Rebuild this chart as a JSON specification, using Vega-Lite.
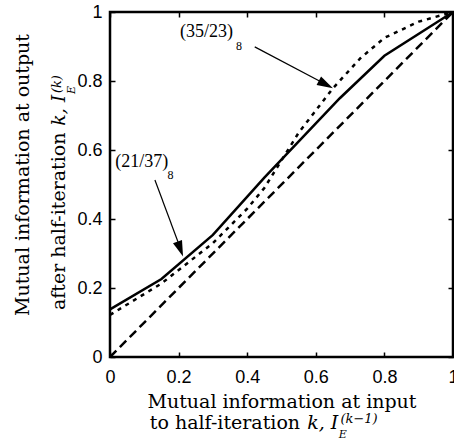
{
  "$schema": "https://vega.github.io/schema/vega-lite/v6.json",
  "width": 343,
  "height": 345,
  "autosize": {"type": "none"},
  "padding": {"left": 110, "top": 12, "right": 1, "bottom": 87},
  "background": "white",
  "data": {"values": [{}]},
  "config": {
    "view": {"stroke": "black", "strokeWidth": 2.5},
    "axis": {"grid": false, "domain": false, "tickColor": "black", "tickWidth": 1.5, "tickSize": -5, "labelColor": "black", "labelFont": "Liberation Sans", "labelFontSize": 18, "labelFlush": false, "labelOverlap": false, "titleColor": "black", "titleFont": "DejaVu Serif", "titleFontSize": 19, "titleFontWeight": "normal"}
  },
  "datasets": {
    "curves": [
      {"x": 0, "y": 0.138, "code": "(21/37)8"},
      {"x": 0.15, "y": 0.226, "code": "(21/37)8"},
      {"x": 0.3, "y": 0.354, "code": "(21/37)8"},
      {"x": 0.45, "y": 0.52, "code": "(21/37)8"},
      {"x": 0.67, "y": 0.75, "code": "(21/37)8"},
      {"x": 0.8, "y": 0.873, "code": "(21/37)8"},
      {"x": 1, "y": 1, "code": "(21/37)8"},
      {"x": 0, "y": 0.122, "code": "(35/23)8"},
      {"x": 0.15, "y": 0.213, "code": "(35/23)8"},
      {"x": 0.3, "y": 0.33, "code": "(35/23)8"},
      {"x": 0.4, "y": 0.43, "code": "(35/23)8"},
      {"x": 0.45, "y": 0.49, "code": "(35/23)8"},
      {"x": 0.55, "y": 0.65, "code": "(35/23)8"},
      {"x": 0.65, "y": 0.779, "code": "(35/23)8"},
      {"x": 0.73, "y": 0.866, "code": "(35/23)8"},
      {"x": 0.8, "y": 0.925, "code": "(35/23)8"},
      {"x": 0.9, "y": 0.972, "code": "(35/23)8"},
      {"x": 1, "y": 1, "code": "(35/23)8"},
      {"x": 0, "y": 0, "code": "identity"},
      {"x": 1, "y": 1, "code": "identity"}
    ]
  },
  "resolve": {"axis": {"x": "independent", "y": "independent"}},
  "layer": [
    {
      "data": {"name": "curves"},
      "transform": [{"filter": "datum.code === 'identity'"}],
      "mark": {"type": "line", "color": "black", "strokeWidth": 2.5, "strokeDash": [9, 5], "strokeCap": "butt"},
      "encoding": {
        "x": {"field": "x", "type": "quantitative", "scale": {"domain": [0, 1], "nice": false, "zero": false}, "axis": {"orient": "top", "values": [0, 0.2, 0.4, 0.6, 0.8, 1], "labels": false, "title": null}},
        "y": {"field": "y", "type": "quantitative", "scale": {"domain": [0, 1], "nice": false, "zero": false}, "axis": {"orient": "right", "values": [0, 0.2, 0.4, 0.6, 0.8, 1], "labels": false, "title": null}}
      }
    },
    {
      "data": {"name": "curves"},
      "transform": [{"filter": "datum.code === '(35/23)8'"}],
      "mark": {"type": "line", "color": "black", "strokeWidth": 2.5, "strokeDash": [4, 5], "strokeCap": "butt"},
      "encoding": {
        "x": {"field": "x", "type": "quantitative", "axis": null},
        "y": {"field": "y", "type": "quantitative", "axis": null}
      }
    },
    {
      "data": {"name": "curves"},
      "transform": [{"filter": "datum.code === '(21/37)8'"}],
      "mark": {"type": "line", "color": "black", "strokeWidth": 2.5},
      "encoding": {
        "x": {"field": "x", "type": "quantitative", "axis": {"orient": "bottom", "values": [0, 0.2, 0.4, 0.6, 0.8, 1], "format": "~g", "labelPadding": 25, "labelBaseline": "middle", "title": "Mutual information at input", "titleY": 50, "titleBaseline": "alphabetic"}},
        "y": {"field": "y", "type": "quantitative", "axis": {"orient": "left", "values": [0, 0.2, 0.4, 0.6, 0.8, 1], "format": "~g", "labelPadding": 13, "labelBaseline": "middle", "title": "Mutual information at output", "titleX": -82, "titleY": 162.5, "titleAngle": 270, "titleAlign": "center", "titleBaseline": "alphabetic"}}
      }
    },
    {
      "mark": {"type": "rule", "color": "black", "strokeWidth": 1.2},
      "encoding": {"x": {"datum": 0.422, "axis": null}, "y": {"datum": 0.899, "axis": null}, "x2": {"datum": 0.63}, "y2": {"datum": 0.79}}
    },
    {
      "mark": {"type": "point", "shape": "M0,0 L-2,-0.6 L-2,0.6 Z", "filled": true, "color": "black", "opacity": 1, "size": 256, "angle": 28},
      "encoding": {"x": {"datum": 0.65, "axis": null}, "y": {"datum": 0.779, "axis": null}}
    },
    {
      "mark": {"type": "rule", "color": "black", "strokeWidth": 1.2},
      "encoding": {"x": {"datum": 0.131, "axis": null}, "y": {"datum": 0.513, "axis": null}, "x2": {"datum": 0.207}, "y2": {"datum": 0.31}}
    },
    {
      "mark": {"type": "point", "shape": "M0,0 L-2,-0.6 L-2,0.6 Z", "filled": true, "color": "black", "opacity": 1, "size": 256, "angle": 69.7},
      "encoding": {"x": {"datum": 0.213, "axis": null}, "y": {"datum": 0.291, "axis": null}}
    },
    {
      "mark": {"type": "text", "text": "(35/23)", "font": "Liberation Serif", "fontSize": 18, "align": "left", "baseline": "alphabetic", "color": "black"},
      "encoding": {"x": {"datum": 0.204, "axis": null}, "y": {"datum": 0.928, "axis": null}}
    },
    {
      "mark": {"type": "text", "text": "8", "font": "Liberation Serif", "fontSize": 12, "align": "left", "baseline": "alphabetic", "color": "black"},
      "encoding": {"x": {"datum": 0.367, "axis": null}, "y": {"datum": 0.89, "axis": null}}
    },
    {
      "mark": {"type": "text", "text": "(21/37)", "font": "Liberation Serif", "fontSize": 18, "align": "left", "baseline": "alphabetic", "color": "black"},
      "encoding": {"x": {"datum": 0.015, "axis": null}, "y": {"datum": 0.55, "axis": null}}
    },
    {
      "mark": {"type": "text", "text": "8", "font": "Liberation Serif", "fontSize": 12, "align": "left", "baseline": "alphabetic", "color": "black"},
      "encoding": {"x": {"datum": 0.168, "axis": null}, "y": {"datum": 0.515, "axis": null}}
    },
    {
      "mark": {"type": "text", "text": "to half-iteration", "font": "DejaVu Serif", "fontSize": 19, "align": "left", "baseline": "alphabetic", "color": "black"},
      "encoding": {"x": {"datum": 0.116, "axis": null}, "y": {"datum": -0.208, "axis": null}}
    },
    {
      "mark": {"type": "text", "text": "k, I", "font": "DejaVu Serif", "fontStyle": "italic", "fontSize": 19, "align": "left", "baseline": "alphabetic", "color": "black"},
      "encoding": {"x": {"datum": 0.575, "axis": null}, "y": {"datum": -0.208, "axis": null}}
    },
    {
      "mark": {"type": "text", "text": "E", "font": "DejaVu Serif", "fontStyle": "italic", "fontSize": 11, "align": "left", "baseline": "alphabetic", "color": "black"},
      "encoding": {"x": {"datum": 0.667, "axis": null}, "y": {"datum": -0.234, "axis": null}}
    },
    {
      "mark": {"type": "text", "text": "(k−1)", "font": "DejaVu Serif", "fontStyle": "italic", "fontSize": 13, "align": "left", "baseline": "alphabetic", "color": "black"},
      "encoding": {"x": {"datum": 0.672, "axis": null}, "y": {"datum": -0.192, "axis": null}}
    },
    {
      "mark": {"type": "text", "text": "after half-iteration", "font": "DejaVu Serif", "fontSize": 19, "align": "left", "baseline": "alphabetic", "angle": 270, "color": "black"},
      "encoding": {"x": {"datum": -0.131, "axis": null}, "y": {"datum": 0.136, "axis": null}}
    },
    {
      "mark": {"type": "text", "text": "k, I", "font": "DejaVu Serif", "fontStyle": "italic", "fontSize": 19, "align": "left", "baseline": "alphabetic", "angle": 270, "color": "black"},
      "encoding": {"x": {"datum": -0.131, "axis": null}, "y": {"datum": 0.67, "axis": null}}
    },
    {
      "mark": {"type": "text", "text": "E", "font": "DejaVu Serif", "fontStyle": "italic", "fontSize": 11, "align": "left", "baseline": "alphabetic", "angle": 270, "color": "black"},
      "encoding": {"x": {"datum": -0.102, "axis": null}, "y": {"datum": 0.762, "axis": null}}
    },
    {
      "mark": {"type": "text", "text": "(k)", "font": "DejaVu Serif", "fontStyle": "italic", "fontSize": 13, "align": "left", "baseline": "alphabetic", "angle": 270, "color": "black"},
      "encoding": {"x": {"datum": -0.143, "axis": null}, "y": {"datum": 0.765, "axis": null}}
    }
  ]
}
